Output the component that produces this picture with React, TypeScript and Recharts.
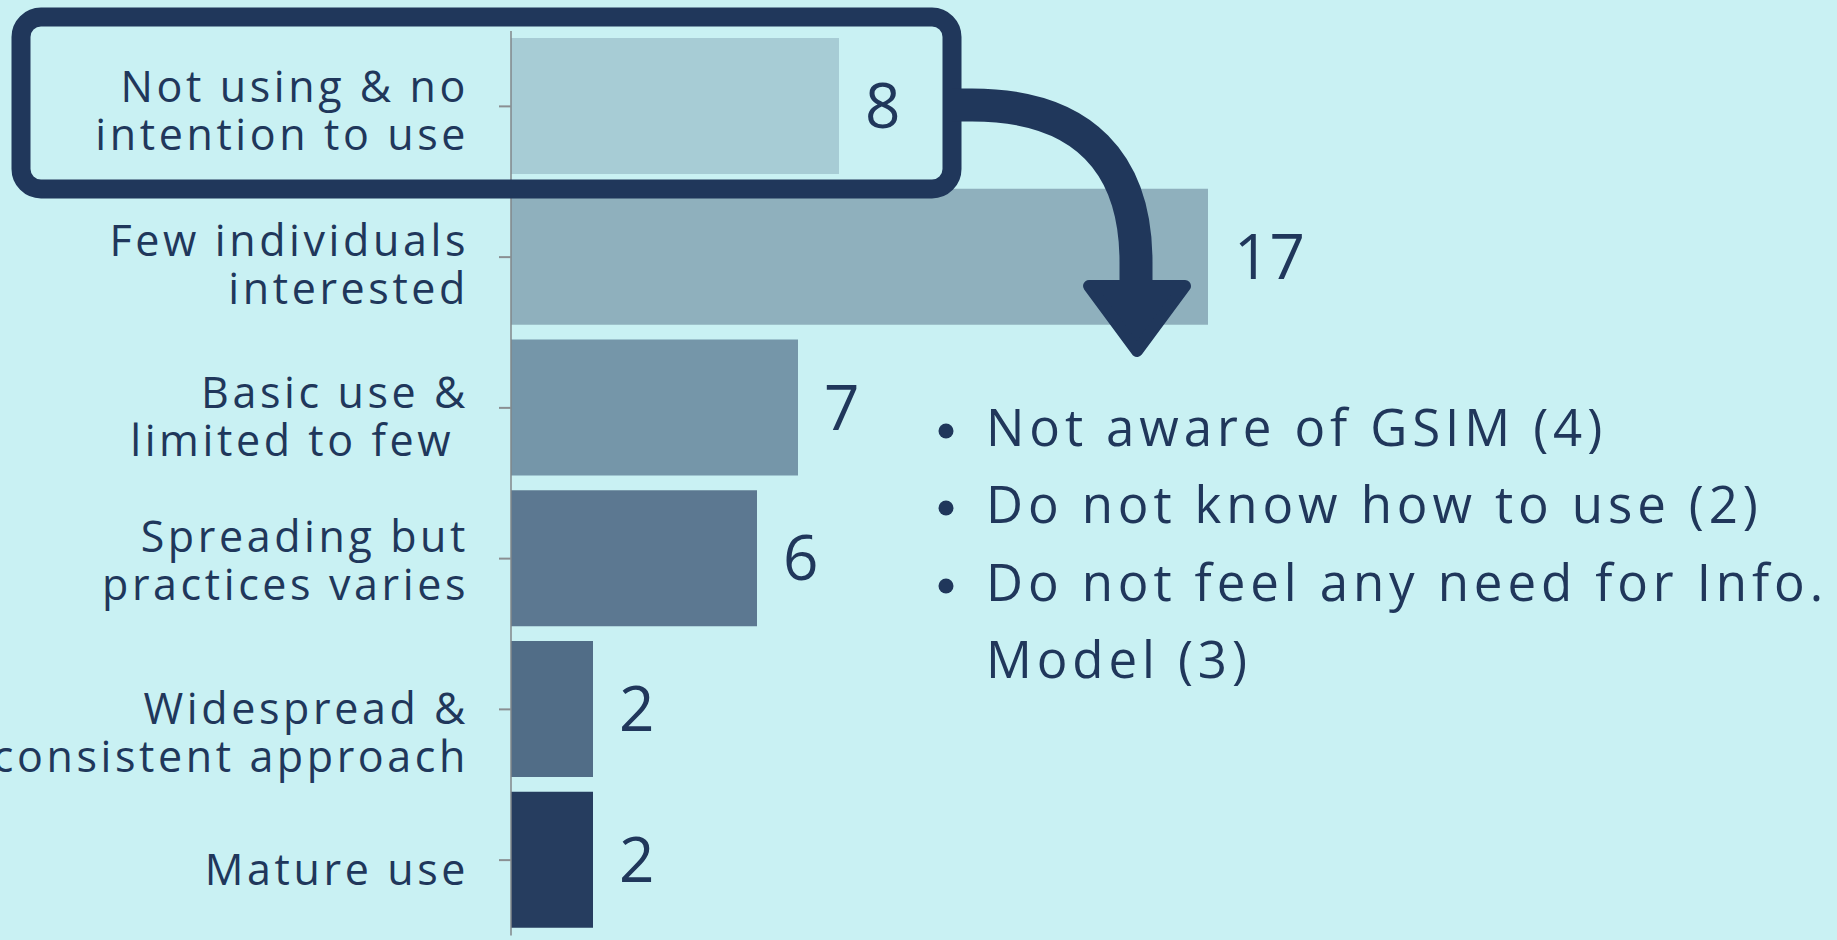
import { BarChart, Bar, XAxis, YAxis, Cell, LabelList } from "recharts";

// ── Data ─────────────────────────────────────────────────────
const STAGES = [
  "Not using & no\nintention to use",
  "Few individuals\ninterested",
  "Basic use &\nlimited to few\u00A0",
  "Spreading but\npractices varies",
  "Widespread &\nconsistent approach",
  "Mature use",
];
const COUNTS = [8, 17, 7, 6, 2, 2];
const REASONS = [
  "Not aware of GSIM (4)",
  "Do not know how to use (2)",
  "Do not feel any need for Info.",
];
const REASON_TAIL = "Model (3)";

// ── Look ─────────────────────────────────────────────────────
const W = 1837;
const H = 940;
const FONT = "'Open Sans', sans-serif";
const NAVY = "#20375b";
const BG = "#c9f1f3";
const BAR_COLORS = ["#a7ccd5", "#8fb0bd", "#7596a9", "#5c7891", "#516d87", "#263d5f"];
// first-baseline offset from band centre for each label (hand placed in the source)
const TICK_NUDGE = [-4, -1, 0, -7, 15, 25];

const rows = STAGES.map((stage, i) => ({ stage, count: COUNTS[i] }));

// eslint-disable-next-line @typescript-eslint/no-explicit-any
function StageTick(props: any) {
  const { x, y, payload, index } = props;
  const lines = String(payload.value).split("\n");
  const base = y + (TICK_NUDGE[index] ?? 0);
  return (
    <text
      x={x - 28}
      y={base}
      textAnchor="end"
      fill={NAVY}
      fontSize={43}
      fontWeight={500}
      fontFamily={FONT}
      letterSpacing={3.6}
    >
      {lines.map((ln, i) => (
        <tspan key={i} x={x - 28} y={base + i * 48}>
          {ln}
        </tspan>
      ))}
    </text>
  );
}

function Overlay() {
  const lineY = [446, 523, 601];
  return (
    <svg
      width={W}
      height={H}
      style={{ position: "absolute", left: 0, top: 0, pointerEvents: "none" }}
    >
      {/* highlight box */}
      <rect x={21} y={17} width={931} height={172} rx={20} fill="none" stroke={NAVY} strokeWidth={19} />
      {/* curved arrow */}
      <path
        d="M 952 105 L 972 105 C 1085 105 1136 165 1136 262 L 1136 292"
        fill="none"
        stroke={NAVY}
        strokeWidth={33}
      />
      <polygon
        points="1089,286 1185,286 1137,351"
        fill={NAVY}
        stroke={NAVY}
        strokeWidth={12}
        strokeLinejoin="round"
      />
      {/* reasons list */}
      {REASONS.map((r, i) => (
        <g key={r}>
          <circle cx={946} cy={lineY[i] - 15} r={7.5} fill={NAVY} />
          <text x={986} y={lineY[i]} fill={NAVY} fontSize={51} fontWeight={500} fontFamily={FONT} letterSpacing={4.9}>
            {r}
          </text>
        </g>
      ))}
      <text x={986} y={678} fill={NAVY} fontSize={51} fontWeight={500} fontFamily={FONT} letterSpacing={4.9}>
        {REASON_TAIL}
      </text>
    </svg>
  );
}

export default function App() {
  return (
    <div style={{ position: "fixed", left: 0, top: 0, width: W, height: H, background: BG, overflow: "hidden" }}>
      <BarChart
        layout="vertical"
        width={W}
        height={H}
        data={rows}
        margin={{ top: 31, right: 96, bottom: 4.5, left: 0 }}
        barSize={136}
      >
        <XAxis type="number" domain={[0, 30]} hide />
        <YAxis
          type="category"
          dataKey="stage"
          width={511}
          interval={0}
          tickSize={12}
          axisLine={{ stroke: "#80868a", strokeWidth: 1.5 }}
          tickLine={{ stroke: "#8a8f92", strokeWidth: 2 }}
          tick={StageTick}
        />
        <Bar dataKey="count" isAnimationActive={false}>
          {rows.map((r, i) => (
            <Cell key={r.stage} fill={BAR_COLORS[i]} />
          ))}
          <LabelList
            dataKey="count"
            position="right"
            offset={26}
            fill={NAVY}
            fontSize={62}
            fontWeight={500}
            fontFamily={FONT}
          />
        </Bar>
      </BarChart>
      <Overlay />
    </div>
  );
}
